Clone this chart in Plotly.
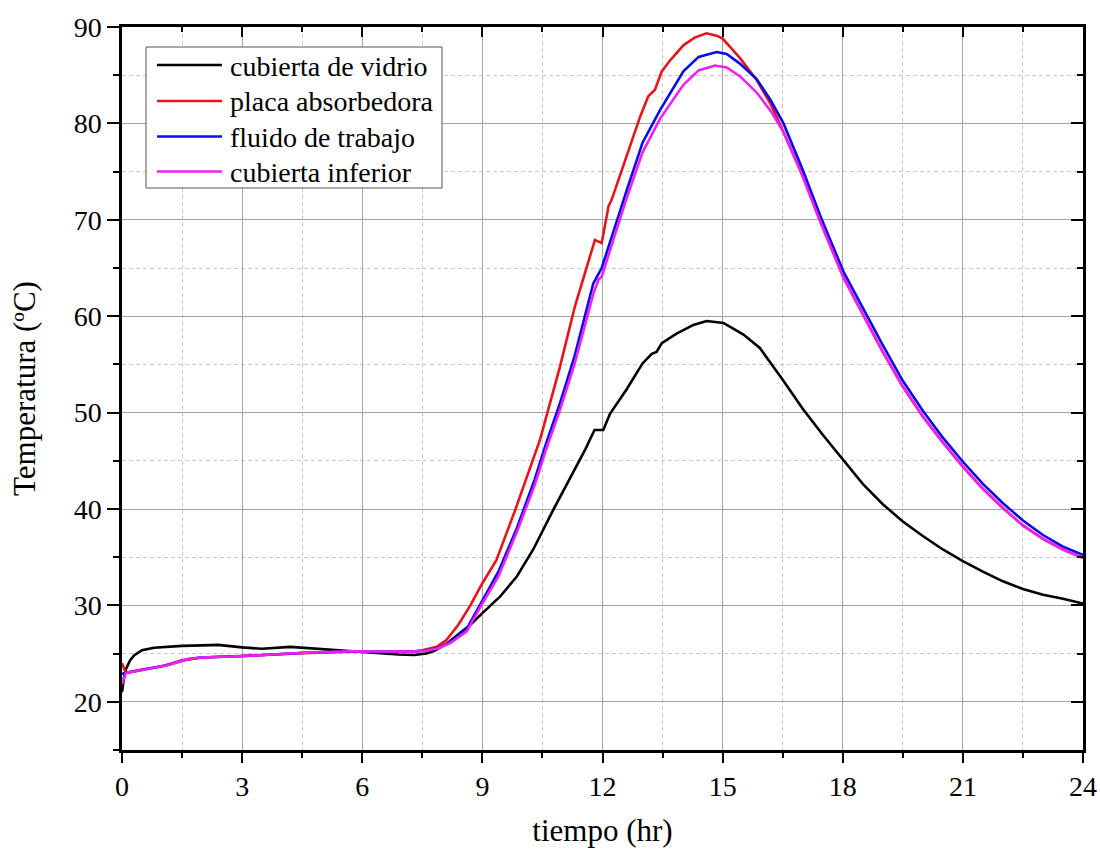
import plotly.graph_objects as go

# ---- data ----
t_vidrio = [0, 0.05, 0.1, 0.2, 0.3, 0.5, 0.8, 1.1, 1.5, 2.0, 2.4, 3.0, 3.5, 4.2, 4.9, 5.7,
            6.3, 6.9, 7.3, 7.6, 7.8, 8.1, 8.4, 8.7, 9.0, 9.44, 9.86, 10.27, 10.77, 11.2, 11.44,
            11.56, 11.8, 12.02, 12.19, 12.6, 13.0, 13.23, 13.35, 13.48, 13.85, 14.27, 14.6,
            15.02, 15.52, 15.93, 16.5, 17.0, 17.5, 18.0, 18.5, 19.0, 19.5, 20.0, 20.5, 21.0,
            21.5, 22.0, 22.5, 23.0, 23.5, 24.0]
T_vidrio = [21.0, 22.5, 23.4, 24.3, 24.8, 25.35, 25.6, 25.7, 25.8, 25.85, 25.9, 25.65, 25.5,
            25.7, 25.5, 25.2, 25.1, 24.9, 24.85, 25.0, 25.3, 26.0, 27.0, 28.0, 29.2, 30.9,
            33.0, 35.8, 39.9, 43.2, 45.1, 46.1, 48.2, 48.2, 49.9, 52.4, 55.1, 56.1, 56.3,
            57.2, 58.2, 59.1, 59.5, 59.3, 58.1, 56.7, 53.4, 50.4, 47.7, 45.1, 42.6, 40.5,
            38.7, 37.2, 35.8, 34.6, 33.5, 32.5, 31.7, 31.1, 30.7, 30.2]

t_placa = [0, 0.1, 0.5, 1.0, 1.5, 2.0, 3.0, 4.5, 5.7, 6.5, 7.2, 7.5, 7.86, 8.1, 8.4, 8.7,
           9.0, 9.35, 9.82, 10.44, 10.94, 11.31, 11.81, 11.98, 12.15, 12.23, 12.6, 12.94,
           13.14, 13.31, 13.48, 13.7, 14.02, 14.3, 14.6, 14.85, 15.0, 15.43, 15.85, 16.2,
           16.52, 17.0, 17.43, 18.02, 18.5, 19.0, 19.5, 20.0, 20.5, 21.0, 21.5, 22.0, 22.5,
           23.0, 23.5, 24.0]
T_placa = [24.0, 23.0, 23.35, 23.7, 24.3, 24.6, 24.75, 25.05, 25.2, 25.2, 25.2, 25.35, 25.7,
           26.4, 28.0, 30.0, 32.3, 34.7, 39.9, 47.2, 54.8, 61.0, 67.9, 67.6, 71.4, 72.1,
           76.5, 80.7, 82.8, 83.5, 85.4, 86.6, 88.1, 88.9, 89.35, 89.1, 88.8, 86.8, 84.5,
           82.0, 79.1, 74.6, 69.9, 64.0, 60.2, 56.3, 52.7, 49.6, 46.9, 44.4, 42.1, 40.1,
           38.3, 36.9, 35.8, 34.95]

t_fluido = [0, 0.1, 0.5, 0.87, 1.12, 1.62, 1.96, 3.04, 4.45, 5.7, 6.5, 7.2, 7.6, 7.9, 8.2,
            8.61, 9.0, 9.4, 9.86, 10.3, 10.6, 10.94, 11.3, 11.77, 11.98, 12.3, 12.6, 13.0,
            13.44, 14.02, 14.4, 14.85, 15.1, 15.43, 15.85, 16.2, 16.52, 17.0, 17.43, 18.02,
            18.5, 19.0, 19.5, 20.0, 20.5, 21.0, 21.5, 22.0, 22.5, 23.0, 23.5, 24.0]
T_fluido = [22.9, 23.0, 23.3, 23.6, 23.8, 24.4, 24.6, 24.75, 25.07, 25.24, 25.2, 25.2, 25.3,
            25.6, 26.2, 27.6, 30.5, 33.5, 38.0, 43.0, 46.9, 51.0, 55.8, 63.4, 65.0, 69.0,
            73.0, 78.0, 81.4, 85.4, 86.9, 87.4, 87.2, 86.2, 84.6, 82.4, 80.0, 75.2, 70.5,
            64.6, 60.8, 57.0, 53.3, 50.2, 47.4, 44.9, 42.6, 40.6, 38.8, 37.3, 36.1, 35.25]

t_inferior = [0, 0.1, 0.5, 0.87, 1.12, 1.62, 1.96, 3.04, 4.45, 5.7, 6.5, 7.2, 7.6, 7.9, 8.2,
              8.61, 9.0, 9.4, 9.86, 10.3, 10.6, 10.94, 11.3, 11.77, 11.9, 11.98, 12.3, 12.6,
              13.0, 13.44, 14.02, 14.4, 14.81, 15.1, 15.43, 15.85, 16.2, 16.52, 17.0, 17.43,
              18.02, 18.5, 19.0, 19.5, 20.0, 20.5, 21.0, 21.5, 22.0, 22.5, 23.0, 23.5, 24.0]
T_inferior = [21.8, 23.0, 23.3, 23.6, 23.8, 24.4, 24.6, 24.75, 25.07, 25.24, 25.2, 25.2, 25.3,
              25.55, 26.1, 27.3, 30.2, 33.0, 37.6, 42.4, 46.3, 50.3, 55.0, 62.3, 63.8, 64.1,
              68.3, 72.2, 77.0, 80.5, 84.0, 85.5, 86.0, 85.8, 84.9, 83.2, 81.3, 79.1, 74.5,
              69.9, 64.0, 60.2, 56.3, 52.7, 49.6, 46.9, 44.4, 42.1, 40.1, 38.3, 36.9, 35.8,
              34.95]

series_names = ["cubierta de vidrio", "placa absorbedora", "fluido de trabajo", "cubierta inferior"]
series_colors = ["#000000", "#e8141c", "#0a0af0", "#f020f0"]

x_ticks = [0, 3, 6, 9, 12, 15, 18, 21, 24]
y_ticks = [20, 30, 40, 50, 60, 70, 80, 90]

FONT = "Liberation Serif"
W, H = 1100, 852
ML, MR, MT, MB = 122, 17, 27, 102


def px_x(p):  # pixel -> paper (x)
    return (p - ML) / (W - ML - MR)


def px_y(p):  # pixel -> paper (y)
    return (H - MB - p) / (H - MT - MB)


fig = go.Figure()
for tx, ty, name, col in zip([t_vidrio, t_placa, t_fluido, t_inferior],
                             [T_vidrio, T_placa, T_fluido, T_inferior],
                             series_names, series_colors):
    fig.add_trace(go.Scatter(x=tx, y=ty, mode="lines", name=name,
                             line=dict(color=col, width=2.6)))

# invisible trace to hold the mirrored (inside-tick) axes
fig.add_trace(go.Scatter(x=t_vidrio, y=T_vidrio, xaxis="x2", yaxis="y2", mode="lines",
                         line=dict(width=0, color="rgba(0,0,0,0)"), showlegend=False,
                         hoverinfo="skip"))

minor_grid = dict(showgrid=True, gridcolor="#c8c8c8", griddash="4px,3px", gridwidth=1)

fig.update_layout(
    width=W, height=H,
    margin=dict(l=ML, r=MR, t=MT, b=MB, autoexpand=False),
    paper_bgcolor="white", plot_bgcolor="white",
    font=dict(family=FONT, color="black"),
    showlegend=False,
    xaxis=dict(range=[0, 24], tickvals=x_ticks, showline=True, linecolor="black",
               linewidth=2.5, mirror=True, ticks="outside", ticklen=10, tickwidth=2,
               tickcolor="black", showgrid=True, gridcolor="#a3a3a3", gridwidth=1,
               zeroline=False, automargin=False,
               tickfont=dict(family=FONT, size=28, color="black"),
               minor=dict(dtick=1.5, tick0=0, ticks="outside", ticklen=5, tickwidth=2,
                          tickcolor="black", **minor_grid),
               title=dict(text="tiempo (hr)", font=dict(family=FONT, size=31, color="black"),
                          standoff=18)),
    yaxis=dict(range=[15, 90], tickvals=y_ticks, showline=True, linecolor="black",
               linewidth=2.5, mirror=True, ticks="outside", ticklen=12, tickwidth=2,
               tickcolor="black", showgrid=True, gridcolor="#a3a3a3", gridwidth=1,
               zeroline=False, automargin=False,
               tickfont=dict(family=FONT, size=28, color="black"),
               minor=dict(dtick=5, tick0=15, ticks="outside", ticklen=6, tickwidth=2,
                          tickcolor="black", **minor_grid),
               title=dict(text="Temperatura (ºC)", font=dict(family=FONT, size=31, color="black"),
                          standoff=29)),
    xaxis2=dict(overlaying="x", side="top", range=[0, 24], tickvals=x_ticks,
                ticks="inside", ticklen=10, tickwidth=2, tickcolor="black",
                showticklabels=False, showgrid=False, zeroline=False, showline=False,
                automargin=False,
                minor=dict(dtick=1.5, tick0=0, ticks="inside", ticklen=5, tickwidth=2,
                           tickcolor="black", showgrid=False)),
    yaxis2=dict(overlaying="y", side="right", range=[15, 90], tickvals=y_ticks,
                ticks="inside", ticklen=12, tickwidth=2, tickcolor="black",
                showticklabels=False, showgrid=False, zeroline=False, showline=False,
                automargin=False,
                minor=dict(dtick=5, tick0=15, ticks="inside", ticklen=6, tickwidth=2,
                           tickcolor="black", showgrid=False)),
)

# ---- legend box drawn like the original (long line samples) ----
box_l, box_r, box_t, box_b = 146, 442, 47, 188
row_y = [65, 101, 136.5, 171.5]
fig.add_shape(type="rect", xref="paper", yref="paper",
              x0=px_x(box_l), x1=px_x(box_r), y0=px_y(box_b), y1=px_y(box_t),
              line=dict(color="#555555", width=1), fillcolor="white", layer="above")
for ry, name, col in zip(row_y, series_names, series_colors):
    fig.add_shape(type="line", xref="paper", yref="paper",
                  x0=px_x(157), x1=px_x(222), y0=px_y(ry), y1=px_y(ry),
                  line=dict(color=col, width=2.6), layer="above")
    fig.add_annotation(xref="paper", yref="paper", x=px_x(228), y=px_y(ry + 1),
                       xanchor="left", yanchor="middle", text=name, showarrow=False,
                       font=dict(family=FONT, size=28, color="black"))

fig.write_html("out.html")
